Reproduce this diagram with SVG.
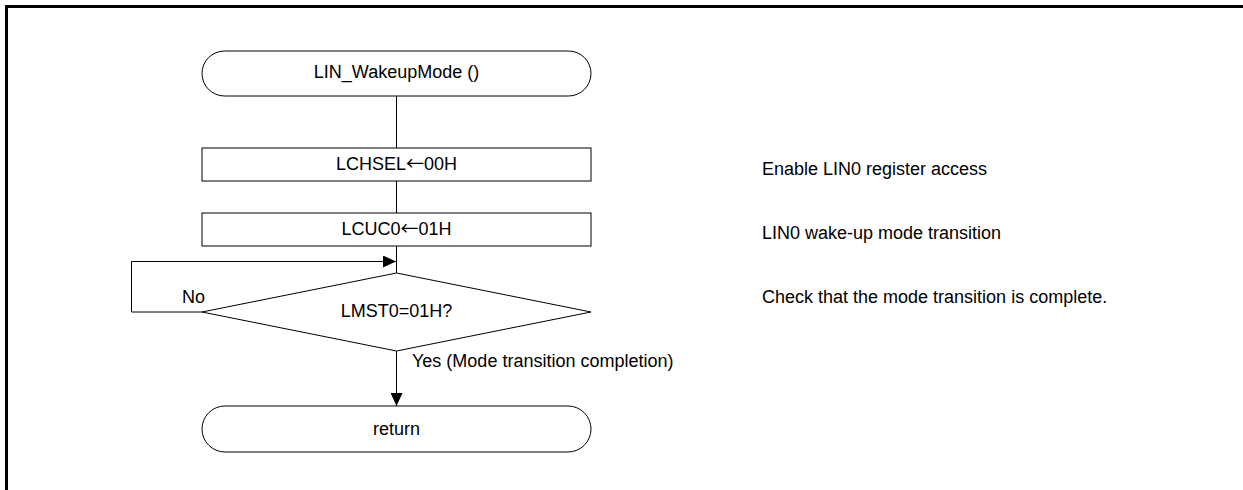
<svg xmlns="http://www.w3.org/2000/svg" width="1243" height="490" viewBox="0 0 1243 490">
<style>
.s{fill:#fff;stroke:#000;stroke-width:1}
.t{font-family:"Liberation Sans",Arial,sans-serif;font-size:18px;fill:#000}
.m{text-anchor:middle}
.a{font-family:"Noto Sans CJK JP","Liberation Sans",sans-serif}
.c{fill:none;stroke:#000;stroke-width:1}
</style>
<defs>
<marker id="ah" viewBox="0 0 13 12" refX="13" refY="6" markerWidth="13" markerHeight="12" markerUnits="userSpaceOnUse" orient="auto">
<path d="M0,0 L13,6 L0,12 Z" fill="#000"/>
</marker>
</defs>
<rect width="1243" height="490" fill="#fff"/>
<g id="frame">
<path d="M6.5,490 V6.5 H1243" fill="none" stroke="#000" stroke-width="3"/>
</g>
<g id="connectors">
<path class="c" d="M396.5,96 V148"/>
<path class="c" d="M396.5,181 V213"/>
<path class="c" d="M396.5,246 V273"/>
<path class="c" d="M202,312 H131.5 V261.5 H396" marker-end="url(#ah)"/>
<path class="c" d="M396.5,351 V406" marker-end="url(#ah)"/>
<text class="t" x="412" y="367">Yes (Mode transition completion)</text>
<text class="t" x="182" y="303">No</text>
</g>
<g id="start">
<rect class="s" x="202" y="51" width="389" height="45" rx="22.5" ry="22.5"/>
<text class="t m" x="396.5" y="78">LIN_WakeupMode ()</text>
</g>
<g id="box1">
<rect class="s" x="202" y="148" width="389" height="33"/>
<text class="t m" x="396.5" y="170">LCHSEL<tspan class="a">←</tspan>00H</text>
</g>
<g id="box2">
<rect class="s" x="202" y="213" width="389" height="33"/>
<text class="t m" x="396.5" y="235">LCUC0<tspan class="a">←</tspan>01H</text>
</g>
<g id="decision">
<polygon class="s" points="396.5,273 591,312 396.5,351 202,312"/>
<text class="t m" x="396.5" y="317">LMST0=01H?</text>
</g>
<g id="end">
<rect class="s" x="202" y="406" width="389" height="46" rx="23" ry="23"/>
<text class="t m" x="396.5" y="435">return</text>
</g>
<g id="notes">
<text class="t" x="762" y="175">Enable LIN0 register access</text>
<text class="t" x="762" y="239">LIN0 wake-up mode transition</text>
<text class="t" x="762" y="303">Check that the mode transition is complete.</text>
</g>
</svg>
